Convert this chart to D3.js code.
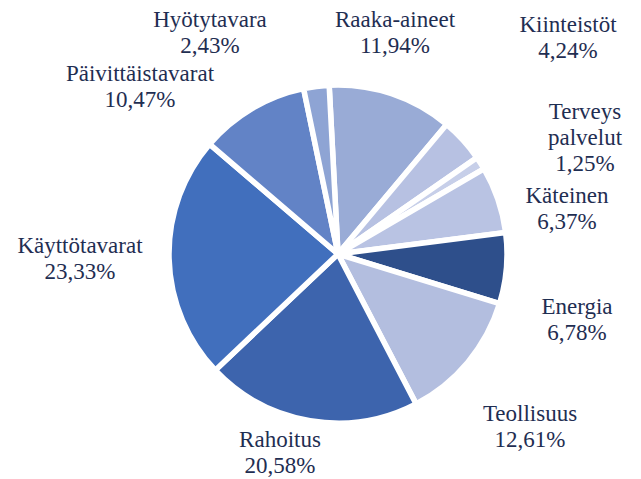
<!DOCTYPE html>
<html>
<head>
<meta charset="utf-8">
<script src="https://cdn.jsdelivr.net/npm/d3@7"></script>
<style>
  body { margin: 0; background: #fff; }
  svg text { font-family: "Liberation Serif", Tinos, "Times New Roman", Times, "DejaVu Serif", "Noto Serif", serif; }
</style>
</head>
<body>
<div id="wrapper"></div>
<script>
// sector names and shares (%), clockwise from the top
const sectors = ["Raaka-aineet", "Kiinteistöt", "Terveys palvelut", "Käteinen", "Energia",
                 "Teollisuus", "Rahoitus", "Käyttötavarat", "Päivittäistavarat", "Hyötytavara"]
const shares = [11.94, 4.24, 1.25, 6.37, 6.78, 12.61, 20.58, 23.33, 10.47, 2.43]
const shareLabels = ["11,94%", "4,24%", "1,25%", "6,37%", "6,78%", "12,61%", "20,58%", "23,33%", "10,47%", "2,43%"]
const sliceColors = ["#99abd6", "#b7c1e2", "#c7cfe9", "#b9c3e3", "#2e4f8b",
                     "#b3bedf", "#3d64ad", "#416fbd", "#6283c6", "#8ea4d4"]

// label layout: centre x and first baseline y of each label block
const labelLayout = [
  [395, 27], [568, 32], [585, 119], [567, 203], [577, 314],
  [530, 421], [280, 447], [80, 253], [140, 81], [210, 27]
]

function drawPie() {
  const dims = { width: 641, height: 479, cx: 338, cy: 254, radius: 169 }

  const svg = d3.select("#wrapper")
    .append("svg")
      .attr("width", dims.width)
      .attr("height", dims.height)

  const start = -3 * Math.PI / 180
  const pie = d3.pie()
    .sort(null)
    .value(d => d)
    .startAngle(start)
    .endAngle(start + 2 * Math.PI)

  const arc = d3.arc()
    .innerRadius(0)
    .outerRadius(dims.radius)

  const bound = svg.append("g")
    .attr("transform", `translate(${dims.cx},${dims.cy})`)

  bound.selectAll("path")
    .data(pie(shares))
    .join("path")
      .attr("d", arc)
      .attr("fill", (d, i) => sliceColors[i])
      .attr("stroke", "#fff")
      .attr("stroke-width", 5.5)
      .attr("stroke-linejoin", "miter")

  // labels: name lines then the percentage
  const labels = svg.append("g")
    .selectAll("text")
    .data(sectors)
    .join("text")
      .attr("text-anchor", "middle")
      .attr("fill", "#1f2e52")
      .attr("font-size", "23px")
      .attr("x", (d, i) => labelLayout[i][0])
      .attr("y", (d, i) => labelLayout[i][1])

  labels.each(function(d, i) {
    const lines = d.split(" ").concat([shareLabels[i]])
    d3.select(this).selectAll("tspan")
      .data(lines)
      .join("tspan")
        .attr("x", labelLayout[i][0])
        .attr("dy", (l, j) => j === 0 ? 0 : 26)
        .text(l => l)
  })
}

drawPie()
</script>
</body>
</html>
